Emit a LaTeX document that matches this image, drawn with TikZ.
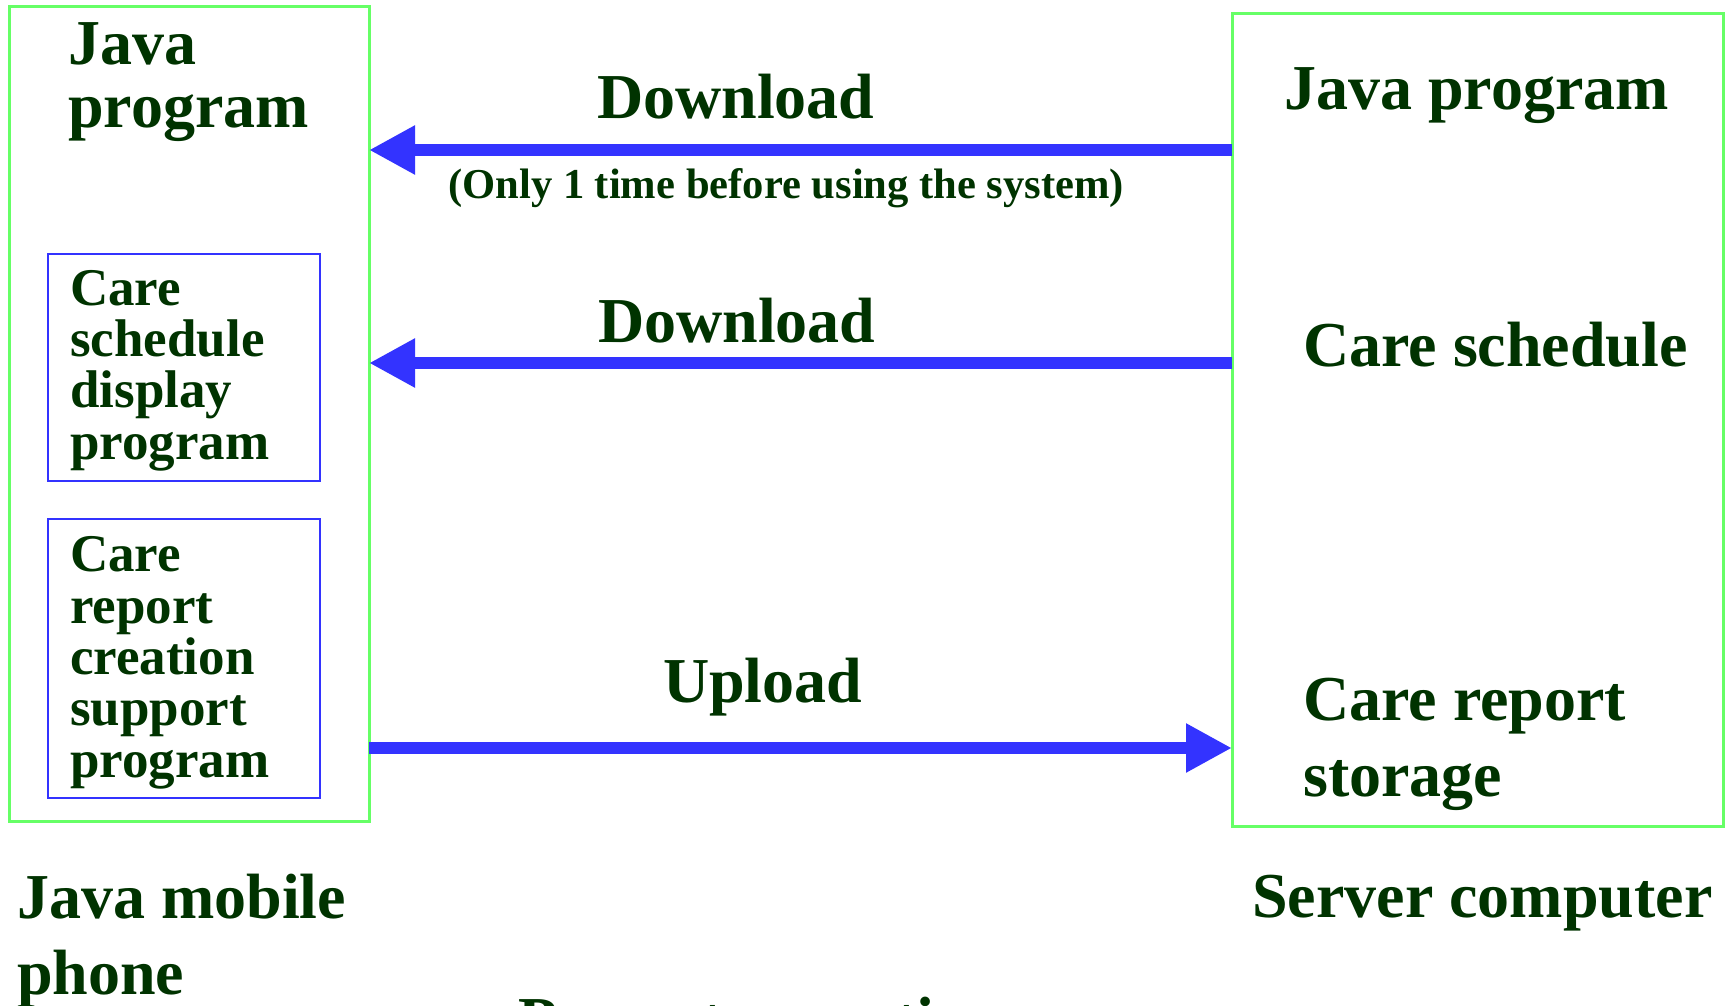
\documentclass[tikz,border=0pt]{standalone}
\usepackage{fontspec}
\setmainfont{Liberation Serif}
\usetikzlibrary{arrows.meta}
\definecolor{dgreen}{HTML}{003300}
\definecolor{lgreen}{HTML}{66FF66}
\definecolor{bblue}{HTML}{3333FF}
\tikzset{
  x=1pt, y=-1pt,
  gbox/.style={draw=lgreen, line width=3pt, inner sep=0pt, outer sep=0pt, anchor=north west},
  bbox/.style={draw=bblue, line width=2pt, inner sep=0pt, outer sep=0pt, anchor=north west},
  lbl/.style={inner sep=0pt, anchor=base west, align=left, text=dgreen},
  big/.style={lbl, font=\fontsize{64}{63}\selectfont\bfseries},
  mid/.style={lbl, font=\fontsize{53}{51.3}\selectfont\bfseries},
  small/.style={lbl, font=\fontsize{42.6}{45}\selectfont\bfseries},
  arr/.style={draw=bblue, line width=12pt, -{Triangle[length=46pt,width=46pt]}, bblue},
}
\begin{document}
\begin{tikzpicture}
\clip (0,0) rectangle (1733,1006);
\fill[white] (0,0) rectangle (1733,1006);
% containers
\node[gbox, minimum width=360pt, minimum height=814pt] (phone) at (9,7) {};
\node[gbox, minimum width=491pt, minimum height=812pt] (server) at (1232,14) {};
\node[bbox, minimum width=272pt, minimum height=227pt] (disp) at (48,254) {};
\node[bbox, minimum width=272pt, minimum height=279pt] (rep) at (48,519) {};
% texts (base anchor = baseline of the last line)
\node[big] (jpL) at (68,128) {Java\\program};
\node[big] (jpR) at (1284,110) {Java program};
\node[mid] (csd) at (70,459) {Care\\schedule\\display\\program};
\node[mid] (crc) at (70,777) {Care\\report\\creation\\support\\program};
\node[big] (csR) at (1303,366) {Care schedule};
\node[big, font=\fontsize{64}{76}\selectfont\bfseries] (crs) at (1303,796) {Care report\\storage};
\node[big, font=\fontsize{64}{76}\selectfont\bfseries] (phoneLbl) at (17,994) {Java mobile\\phone};
\node[big] (serverLbl) at (1252,917) {Server computer};
\node[big] (dl1) at (597,119) {Download};
\node[small] (note) at (448,199) {(Only 1 time before using the system)};
\node[big] (dl2) at (598,342) {Download};
\node[big] (ul) at (663,702) {Upload};
\node[big] (caption) at (518,1041) {Present operation};
% connectors
\draw[arr] (server.north west |- 0,150) -- (phone.north east |- 0,150);
\draw[arr] (server.north west |- 0,363) -- (phone.north east |- 0,363);
\draw[arr] (phone.north east |- 0,748) -- (server.north west |- 0,748);
\end{tikzpicture}
\end{document}
